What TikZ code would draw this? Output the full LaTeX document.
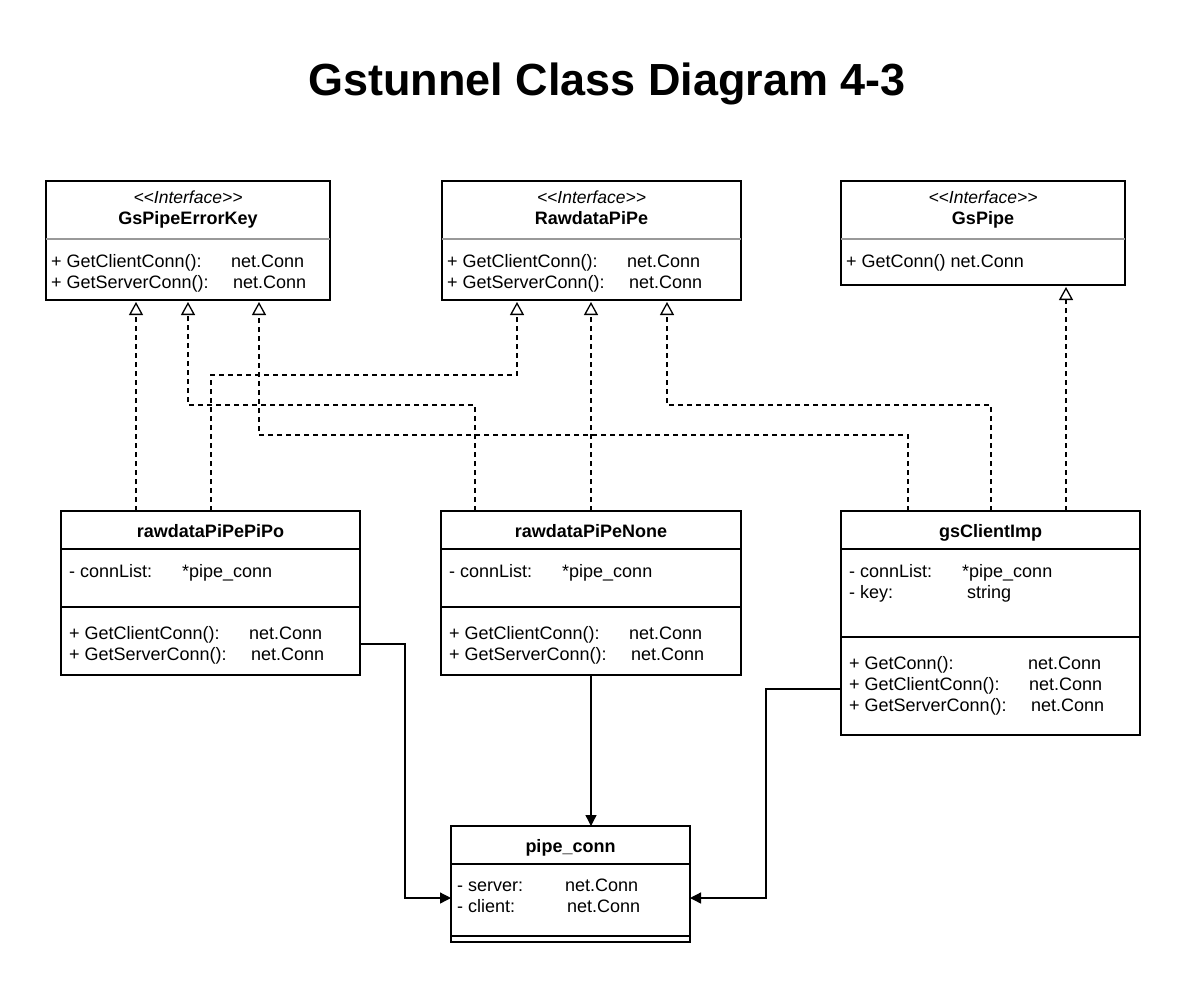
\documentclass[tikz,border=0pt]{standalone}
\usepackage{fontspec}
\setmainfont{Liberation Sans}
\usetikzlibrary{arrows.meta}
\newcommand{\lt}{<\kern0pt}
\newcommand{\gt}{>\kern0pt}
\begin{document}
\begin{tikzpicture}[x=1pt,y=-1pt,
  box/.style={draw, line width=1.3pt, rectangle, anchor=north west, inner sep=0pt, outer sep=0pt},
  txt/.style={anchor=west, inner sep=0pt, text height=15pt, text depth=2pt, font=\fontsize{18}{21}\selectfont},
  cname/.style={anchor=center, inner sep=0pt, text height=15pt, text depth=2pt, font=\fontsize{18}{21}\selectfont\bfseries},
  ster/.style={anchor=center, inner sep=0pt, text height=15pt, text depth=2pt, font=\fontsize{17.5}{21}\selectfont\itshape},
  sepline/.style={line width=1.3pt},
  gsepline/.style={line width=1.3pt, draw=black!40},
  real/.style={line width=1.3pt, dash pattern=on 5pt off 4pt, -{Triangle[open,length=13pt,width=14pt,line width=1.3pt]}, shorten >=2pt},
  assoc/.style={line width=1.3pt, -{Triangle[length=11pt,width=11pt]}},
]
\useasboundingbox (0,0) rectangle (1187,989);
\fill[white] (0,0) rectangle (1187,989);

\node[inner sep=0pt, font=\fontsize{45}{54}\selectfont\bfseries] (title) at (607,84) {Gstunnel Class Diagram 4-3};

% ---- GsPipeErrorKey
\node[box, minimum width=284pt, minimum height=119pt] (gpek) at (46,181) {};
\draw[gsepline] (46,239) -- (330,239);
\node[ster] (gpekS) at (188,197) {\lt\lt Interface\gt\gt};
\node[cname] (gpekN) at (188,218) {GsPipeErrorKey};
\node[txt] (gpekA1) at (51,261) {+ GetClientConn():};
\node[txt] (gpekA1t) at (231,261) {net.Conn};
\node[txt] (gpekA2) at (51,282) {+ GetServerConn():};
\node[txt] (gpekA2t) at (233,282) {net.Conn};

% ---- RawdataPiPe
\node[box, minimum width=299pt, minimum height=119pt] (rdp) at (442,181) {};
\draw[gsepline] (442,239) -- (741,239);
\node[ster] (rdpS) at (591.5,197) {\lt\lt Interface\gt\gt};
\node[cname] (rdpN) at (591.5,218) {RawdataPiPe};
\node[txt] (rdpA1) at (447,261) {+ GetClientConn():};
\node[txt] (rdpA1t) at (627,261) {net.Conn};
\node[txt] (rdpA2) at (447,282) {+ GetServerConn():};
\node[txt] (rdpA2t) at (629,282) {net.Conn};

% ---- GsPipe
\node[box, minimum width=284pt, minimum height=104pt] (gsp) at (841,181) {};
\draw[gsepline] (841,239) -- (1125,239);
\node[ster] (gspS) at (983,197) {\lt\lt Interface\gt\gt};
\node[cname] (gspN) at (983,218) {GsPipe};
\node[txt] (gspA1) at (846,261) {+ GetConn() net.Conn};

% ---- rawdataPiPePiPo
\node[box, minimum width=299pt, minimum height=164pt] (pipo) at (61,511) {};
\draw[sepline] (61,549) -- (360,549);
\draw[sepline] (61,607) -- (360,607);
\node[cname] (pipoN) at (210.5,531) {rawdataPiPePiPo};
\node[txt] (pipoF1) at (69,571) {- connList:};
\node[txt] (pipoF1t) at (182,571) {*pipe\_conn};
\node[txt] (pipoM1) at (69,633) {+ GetClientConn():};
\node[txt] (pipoM1t) at (249,633) {net.Conn};
\node[txt] (pipoM2) at (69,654) {+ GetServerConn():};
\node[txt] (pipoM2t) at (251,654) {net.Conn};

% ---- rawdataPiPeNone
\node[box, minimum width=300pt, minimum height=164pt] (none) at (441,511) {};
\draw[sepline] (441,549) -- (741,549);
\draw[sepline] (441,607) -- (741,607);
\node[cname] (noneN) at (591,531) {rawdataPiPeNone};
\node[txt] (noneF1) at (449,571) {- connList:};
\node[txt] (noneF1t) at (562,571) {*pipe\_conn};
\node[txt] (noneM1) at (449,633) {+ GetClientConn():};
\node[txt] (noneM1t) at (629,633) {net.Conn};
\node[txt] (noneM2) at (449,654) {+ GetServerConn():};
\node[txt] (noneM2t) at (631,654) {net.Conn};

% ---- gsClientImp
\node[box, minimum width=299pt, minimum height=224pt] (gci) at (841,511) {};
\draw[sepline] (841,549) -- (1140,549);
\draw[sepline] (841,637) -- (1140,637);
\node[cname] (gciN) at (990.5,531) {gsClientImp};
\node[txt] (gciF1) at (849,571) {- connList:};
\node[txt] (gciF1t) at (962,571) {*pipe\_conn};
\node[txt] (gciF2) at (849,592) {- key:};
\node[txt] (gciF2t) at (967,592) {string};
\node[txt] (gciM1) at (849,663) {+ GetConn():};
\node[txt] (gciM1t) at (1028,663) {net.Conn};
\node[txt] (gciM2) at (849,684) {+ GetClientConn():};
\node[txt] (gciM2t) at (1029,684) {net.Conn};
\node[txt] (gciM3) at (849,705) {+ GetServerConn():};
\node[txt] (gciM3t) at (1031,705) {net.Conn};

% ---- pipe_conn
\node[box, minimum width=239pt, minimum height=116pt] (pc) at (451,826) {};
\draw[sepline] (451,864) -- (690,864);
\draw[sepline] (451,936) -- (690,936);
\node[cname] (pcN) at (570.5,846) {pipe\_conn};
\node[txt] (pcF1) at (457,885) {- server:};
\node[txt] (pcF1t) at (565,885) {net.Conn};
\node[txt] (pcF2) at (457,906) {- client:};
\node[txt] (pcF2t) at (567,906) {net.Conn};

% ---- realizations
\draw[real] ([xshift=75pt]pipo.north west) -- ([xshift=90pt]gpek.south west);
\draw[real] ([xshift=150pt]pipo.north west) -- ++(0,-136) -| ([xshift=75pt]rdp.south west);
\draw[real] ([xshift=34pt]none.north west) -- ++(0,-106) -| ([xshift=142pt]gpek.south west);
\draw[real] ([xshift=150pt]none.north west) -- ([xshift=149pt]rdp.south west);
\draw[real] ([xshift=67pt]gci.north west) -- ++(0,-76) -| ([xshift=213pt]gpek.south west);
\draw[real] ([xshift=150pt]gci.north west) -- ++(0,-106) -| ([xshift=225pt]rdp.south west);
\draw[real] ([xshift=225pt]gci.north west) -- ([xshift=225pt]gsp.south west);

% ---- associations
\draw[assoc] ([yshift=-133pt]pipo.north east) -- ++(45,0) |- ([yshift=-14pt]pc.west);
\draw[assoc] (none.south) -- (none.south |- pc.north);
\draw[assoc] ([yshift=-178pt]gci.north west) -- ++(-75,0) |- ([yshift=-14pt]pc.east);
\end{tikzpicture}
\end{document}
